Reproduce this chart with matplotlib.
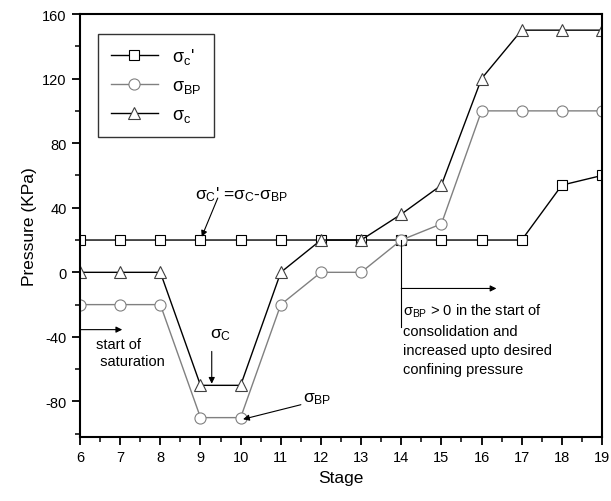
import matplotlib
matplotlib.use("Agg")
import matplotlib.pyplot as plt
from matplotlib.ticker import MultipleLocator

plt.rcParams["font.family"] = ["Liberation Sans", "DejaVu Sans"]
plt.rcParams["mathtext.fontset"] = "custom"
plt.rcParams["mathtext.rm"] = "Liberation Sans"
plt.rcParams["mathtext.it"] = "Liberation Sans"
plt.rcParams["mathtext.bf"] = "Liberation Sans:bold"
plt.rcParams["axes.unicode_minus"] = False

stages = [6, 7, 8, 9, 10, 11, 12, 13, 14, 15, 16, 17, 18, 19]
sigma_c_eff = [20, 20, 20, 20, 20, 20, 20, 20, 20, 20, 20, 20, 54, 60]
sigma_bp = [-20, -20, -20, -90, -90, -20, 0, 0, 20, 30, 100, 100, 100, 100]
sigma_c = [0, 0, 0, -70, -70, 0, 20, 20, 36, 54, 120, 150, 150, 150]

fig = plt.figure(figsize=(6.11, 5.02), dpi=100)
ax = fig.add_axes([0.131, 0.1275, 0.8543, 0.8426])

ax.plot(stages, sigma_c_eff, color="black", lw=1, marker="s", ms=7,
        mfc="white", mec="black", mew=0.8, label=r"$\mathregular{σ_c}$'")
ax.plot(stages, sigma_bp, color="#808080", lw=1, marker="o", ms=8,
        mfc="white", mec="#808080", mew=0.8, label=r"$\mathregular{σ_{BP}}$")
ax.plot(stages, sigma_c, color="black", lw=1, marker="^", ms=9,
        mfc="white", mec="#404040", mew=0.8, label=r"$\mathregular{σ_c}$")

ax.set_xlim(6, 19)
ax.set_ylim(-102, 160)
ax.xaxis.set_major_locator(MultipleLocator(1))
ax.xaxis.set_minor_locator(MultipleLocator(0.5))
ax.yaxis.set_major_locator(MultipleLocator(40))
ax.yaxis.set_minor_locator(MultipleLocator(20))
ax.tick_params(which="major", length=6, width=1.3, labelsize=10.5)
ax.tick_params(which="minor", length=3.5, width=1.1)
for s in ax.spines.values():
    s.set_linewidth(1.5)

ax.set_xlabel("Stage", fontsize=12.5)
ax.set_ylabel("Pressure (KPa)", fontsize=12.5)

leg = ax.legend(loc="upper left", bbox_to_anchor=(0.017, 0.975), fontsize=13,
                frameon=True, fancybox=False, edgecolor="black",
                handlelength=2.6, labelspacing=0.6, borderpad=0.7)
leg.get_frame().set_linewidth(1.0)

arr = dict(arrowstyle="-|>", color="black", lw=0.8, mutation_scale=9,
           shrinkA=0, shrinkB=0)

ax.text(8.86, 49, r"$\mathregular{σ_C}$' =$\mathregular{σ_C}$-$\mathregular{σ_{BP}}$",
        fontsize=12.5, va="center", ha="left")
ax.annotate("", xy=(9.03, 22), xytext=(9.43, 46), arrowprops=arr)

ax.annotate("", xy=(7.05, -35.5), xytext=(6.0, -35.5), arrowprops=arr)
ax.text(6.4, -40, "start of\n saturation", fontsize=10.5, va="top", ha="left",
        linespacing=1.3)

ax.text(9.23, -38, r"$\mathregular{σ_C}$", fontsize=12.5, va="center", ha="left")
ax.annotate("", xy=(9.28, -69), xytext=(9.28, -49), arrowprops=arr)

ax.text(11.55, -78, r"$\mathregular{σ_{BP}}$", fontsize=12.5, va="center", ha="left")
ax.annotate("", xy=(10.06, -91), xytext=(11.5, -82), arrowprops=arr)

ax.plot([14, 14], [20, -34], color="black", lw=0.8)
ax.annotate("", xy=(16.37, -10), xytext=(14, -10), arrowprops=arr)
ax.text(14.05, -18,
        r"$\mathregular{σ_{BP}}$ > 0 in the start of" + "\nconsolidation and"
        + "\nincreased upto desired\nconfining pressure",
        fontsize=10.5, va="top", ha="left", linespacing=1.45)

fig.savefig("out.png", dpi=100)
